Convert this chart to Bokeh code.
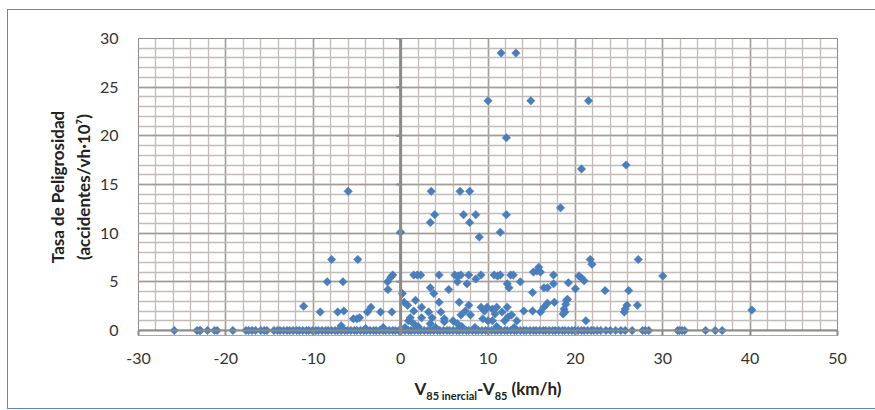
from bokeh.plotting import figure
from bokeh.models import (Range1d, SingleIntervalTicker, Span, BoxAnnotation,
                          ColumnDataSource, PrintfTickFormatter, Title, Div)
from bokeh.embed import file_html
from bokeh.resources import INLINE
import numpy as np

# Rate of danger vs. inertial operating speed difference
# Points with a non-zero rate
x_pos = [11.5, 13.2, 10.0, 14.9, 21.5, 12.1,
         20.7, 25.8,
         -6.0, 3.5, 6.8, 7.9,
         3.9, 3.4, 7.2, 8.6, 7.9, 12.1,
         18.3, 0.0, 11.4, 9.0,
         21.7, 21.9, 27.2, -7.9, -4.9,
         30.0, 20.4, 20.7, 21.0, 19.2, 20.0, 23.4, 26.1,
         19.1, 18.9, 18.7, 18.6, 25.9, 25.7, 25.6, 27.1, 21.2, 40.2,
         -11.1, -9.2, -8.4, -7.2, -6.6, -6.5, -6.8, -5.4, -5.0, -4.7, -3.8, -3.4, -2.3,
         -1.5, -1.1, -0.9, -1.45, -1.0,
         1.5, 1.9, 2.3, 4.4, 6.2, 6.6, 6.9, 7.8, 9.2, 10.7, 11.1, 11.4, 12.6, 12.9,
         15.2, 15.6, 16.0, 15.8, 17.5,
         0.2, 3.4, 3.8, 5.5, 6.5, 7.6, 8.6, 12.2, 12.4, 13.7, 15.1, 16.4, 16.8, 17.5,
         0.4, 0.8, 1.7, 1.5, 2.4, 3.2, 4.4, 4.6, 5.0, 3.6, 6.7, 7.4, 7.8, 6.9, 8.0,
         9.2, 9.6, 9.9, 10.5, 11.0, 11.6, 12.2, 12.7, 13.3, 14.1, 15.1, 16.0, 16.4,
         16.8, 17.6, 18.8, 19.0, 9.4, 10.0, 6.0, 5.0, 1.1, 0.9, 1.5, 3.4, 6.5, 10.5,
         11.9, 12.3, 10.8, 2.4,
         0.5, 2.0, 4.0, 7.0, 8.5, 11.0, 13.0, -2.0, -4.0]
y_pos = [28.5, 28.5, 23.6, 23.6, 23.6, 19.8,
         16.6, 17.0,
         14.3, 14.3, 14.3, 14.3,
         11.9, 11.1, 11.9, 11.9, 11.1, 11.9,
         12.6, 10.1, 10.1, 9.6,
         7.3, 6.8, 7.3, 7.3, 7.3,
         5.6, 5.6, 5.4, 5.1, 4.9, 4.3, 4.1, 4.1,
         3.2, 2.7, 2.2, 1.7, 2.6, 2.2, 1.9, 2.6, 1.0, 2.1,
         2.5, 1.9, 5.0, 1.9, 5.0, 2.0, 0.5, 1.2, 1.2, 1.3, 1.9, 2.4, 1.9,
         5.0, 5.5, 5.7, 4.2, 1.9,
         5.7, 5.7, 5.7, 5.7, 5.7, 5.6, 5.7, 5.7, 5.7, 5.7, 5.6, 5.7, 5.7, 5.7,
         6.0, 6.1, 6.0, 6.5, 5.7,
         3.8, 4.4, 3.8, 4.2, 5.0, 4.8, 5.3, 4.8, 4.4, 5.0, 3.9, 4.4, 4.4, 4.8,
         2.9, 2.6, 3.1, 2.0, 2.4, 1.9, 2.9, 1.9, 1.2, 1.3, 2.9, 2.0, 2.6, 1.6, 1.6,
         2.4, 2.0, 2.4, 2.2, 2.4, 1.9, 2.4, 1.6, 1.0, 2.0, 2.0, 1.9, 2.4,
         2.8, 2.9, 1.9, 3.1, 1.2, 1.0, 1.0, 0.9, 1.3, 1.0, 0.7, 0.7, 0.7, 1.0,
         1.0, 1.4, 1.7, 1.3,
         0.3, 0.4, 0.3, 0.4, 0.3, 0.4, 0.3, 0.3, 0.2]

# Points with zero rate
x_zero = [-25.9, -23.3, -23.0, -22.9, -22.1, -21.3, -21.0, -19.2,
          -17.7, -17.4, -17.0, -16.6, -16.0, -15.6, -15.3,
          -14.5, -14.1, -13.8, -13.4, -13.0, -12.7, -12.3, -11.9, -11.6, -11.2,
          -10.8, -10.5, -10.1, -9.7, -9.4, -9.0, -8.6, -8.3, -7.9, -7.5, -7.2,
          -6.8, -6.4, -6.1, -5.7, -5.3, -5.0, -4.6, -4.2, -3.9, -3.5, -3.1, -2.8,
          -2.4, -2.0, -1.7, -1.3, -0.9, -0.6, -0.2, 0.1, 0.5, 0.9, 1.2, 1.6, 2.0,
          2.3, 2.7, 3.1, 3.4, 3.8, 4.2, 4.5, 4.9, 5.3, 5.6, 6.0, 6.4, 6.7, 7.1,
          7.5, 7.8, 8.2, 8.6, 8.9, 9.3, 9.7, 10.0, 10.4, 10.8, 11.1, 11.5, 11.9,
          12.2, 12.6, 13.0, 13.3, 13.7, 14.1, 14.4, 14.8, 15.2, 15.5, 15.9, 16.3,
          16.6, 17.0, 17.4, 17.7, 18.1, 18.5, 18.8, 19.2, 19.6, 19.9, 20.3, 20.7,
          21.0, 21.4, 21.8, 22.1, 22.5, 22.9, 23.5, 24.0, 24.6, 25.2, 25.7, 26.5,
          27.7, 28.0, 28.4, 31.7, 31.9, 32.2, 32.5, 34.9, 36.0, 36.8]

x_ticks_interval = 10
y_ticks_interval = 5
y_title = ["Tasa de Peligrosidad", "(accidentes/vh·10⁷)"]
x_title_html = ("V<sub>85 inercial</sub>-V<sub>85</sub> (km/h)")

xs = x_pos + x_zero
ys = y_pos + [0.0] * len(x_zero)
src = ColumnDataSource(dict(x=xs, y=ys))

FONT = "Lato"
BLUE = "#4A7EBB"
GRAY = "#8E8A88"
EDGE = "#5B86BE"
TITLE_COLOR = "#222222"

p = figure(width=867, height=398, output_backend="svg", toolbar_location=None,
           x_range=Range1d(-30, 50), y_range=Range1d(-0.514, 30),
           min_border_left=130, min_border_right=38, min_border_top=28,
           min_border_bottom=73)
p.margin = (10, 0, 0, 8)
p.styles = {"outline": f"1.5px solid {EDGE}"}
p.background_fill_color = "white"
p.border_fill_color = "white"
p.outline_line_color = GRAY
p.outline_line_width = 1

xaxis = p.xaxis[0]
yaxis = p.yaxis[0]

# grid: major every 10 / 5, minor every 2 / 1
xaxis.ticker = SingleIntervalTicker(interval=x_ticks_interval, num_minor_ticks=5)
yaxis.ticker = SingleIntervalTicker(interval=y_ticks_interval, num_minor_ticks=5)
for g in (p.xgrid, p.ygrid):
    g.grid_line_color = "#A39C98"
    g.grid_line_width = 1.5
    g.minor_grid_line_color = "#C3BBB7"
    g.minor_grid_line_width = 1.3

# white strip below the zero line
p.add_layout(BoxAnnotation(bottom=-0.514, top=0, fill_color="white", fill_alpha=1,
                           line_alpha=0, level="underlay"))

for ax in (xaxis, yaxis):
    ax.axis_line_color = None
    ax.minor_tick_line_color = None
    ax.major_label_text_font = FONT
    ax.major_label_text_font_size = "16px"
    ax.major_label_text_color = "#333333"
    ax.formatter = PrintfTickFormatter(format="%d")
xaxis.major_tick_in = 5
xaxis.major_tick_out = 0
xaxis.major_tick_line_color = GRAY
xaxis.major_tick_line_width = 2
xaxis.major_label_standoff = 13
yaxis.major_tick_line_color = None
yaxis.major_label_standoff = 14

# zero lines
p.add_layout(Span(location=0, dimension="width", line_color=GRAY, line_width=2))
p.add_layout(Span(location=0, dimension="height", line_color=GRAY, line_width=3))
tick_len = 4.5 / 8.7375
y_major = list(range(0, 31, y_ticks_interval))
p.segment(x0=[-tick_len] * len(y_major), x1=[0] * len(y_major), y0=y_major, y1=y_major,
          line_color=GRAY, line_width=2)

p.scatter("x", "y", source=src, marker="square", size=6, angle=np.pi / 4,
          fill_color=BLUE, line_color=BLUE, line_width=0.5)

# y title: two lines, innermost first
for txt, gap in ((y_title[1], 5), (y_title[0], 2)):
    p.add_layout(Title(text=txt, align="center", standoff=gap, text_font=FONT,
                       text_font_style="bold", text_font_size="17px",
                       text_color=TITLE_COLOR), "left")

# x title with subscripts
x_title = Div(text=x_title_html, width=360, height=24,
              styles={"position": "absolute", "left": "303px", "top": "374px",
                      "width": "360px", "text-align": "center",
                      "font-family": FONT, "font-weight": "bold",
                      "font-size": "17px", "line-height": "20px",
                      "color": TITLE_COLOR},
              stylesheets=["sub { font-size: 11px; vertical-align: -5px; }"])

open("out.html", "w").write(file_html([p, x_title], INLINE))
